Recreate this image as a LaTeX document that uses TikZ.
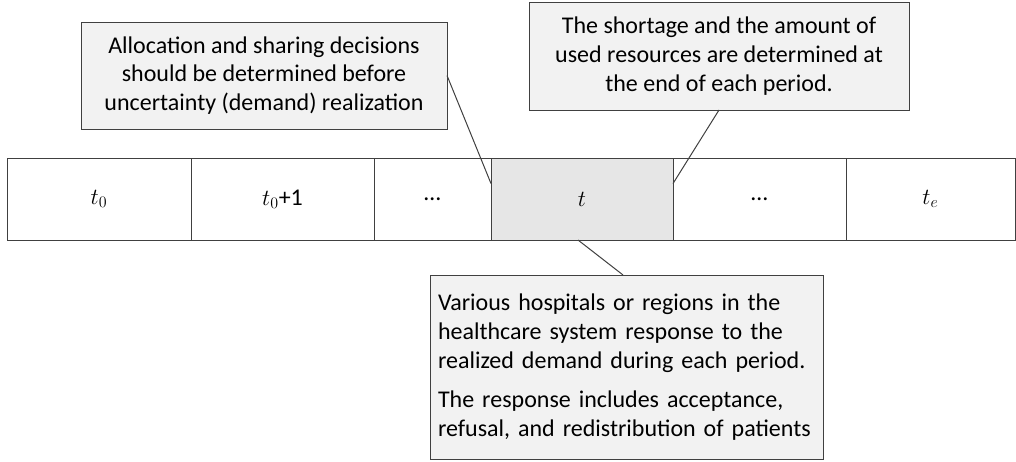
\documentclass[tikz,border=0pt]{standalone}
\usepackage{fontspec}
\setmainfont{Carlito}
\definecolor{linec}{HTML}{404040}
\definecolor{callfill}{HTML}{F2F2F2}
\definecolor{curfill}{HTML}{E6E6E6}
\begin{document}
\begin{tikzpicture}[x=0.75pt,y=-0.75pt,
  every node/.style={font=\fontsize{18}{21.5}\selectfont, outer sep=0pt, text=black},
  cell/.style={draw=linec, line width=0.75pt, minimum height=61.5pt, inner sep=0pt, anchor=north west},
  callout/.style={draw=linec, fill=callfill, line width=0.75pt, inner sep=0pt, align=center},
  link/.style={draw=linec, line width=0.75pt}]
\useasboundingbox (0,0) rectangle (1016,461);
% timeline
\node[cell, minimum width=138pt] (c0) at (7,158) {$t_0$};
\node[cell, minimum width=137.25pt] (c1) at (191,158) {$t_0$+1};
\node[cell, minimum width=87.75pt] (c2) at (374,158) {…};
\node[cell, minimum width=136.5pt, fill=curfill] (c3) at (491,158) {$t$};
\node[cell, minimum width=129.75pt] (c4) at (673,158) {…};
\node[cell, minimum width=126.75pt] (c5) at (846,158) {$t_e$};
% callouts
\node[callout, minimum width=274.5pt, minimum height=80.25pt] (L) at (264,75.5)
  {Allocation and sharing decisions\\should be determined before\\uncertainty (demand) realization};
\node[callout, minimum width=285pt, minimum height=81pt] (R) at (719,56)
  {The shortage and the amount of\\used resources are determined at\\the end of each period.};
\node[callout, align=left, text width=282.75pt, inner xsep=6pt, minimum width=294.75pt, minimum height=138pt] (B) at (626.5,367)
  {Various hospitals or regions in the\\healthcare system response to the\\realized demand during each period.\\[8pt]The response includes acceptance,\\refusal, and redistribution of patients};
% connectors
\draw[link] (L.east) -- ([yshift=11.6pt]c3.west);
\draw[link] (R.south) -- ([yshift=11.6pt]c3.east);
\draw[link] ([xshift=-3pt]c3.south) -- ([xshift=-2.6pt]B.north);
\end{tikzpicture}
\end{document}
